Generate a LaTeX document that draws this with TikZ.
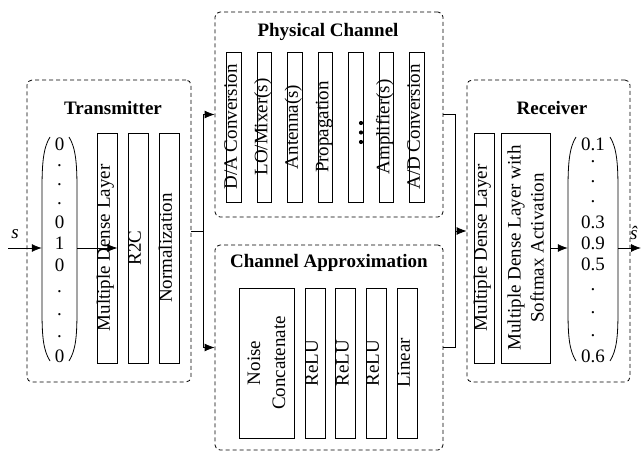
\documentclass[tikz,border=0pt]{standalone}
\usepackage{fontspec}
\setmainfont{Liberation Serif}
\usetikzlibrary{arrows.meta}
\begin{document}
\begin{tikzpicture}[x=1pt,y=-1pt,
  every node/.style={font=\fontsize{19}{23}\selectfont},
  dbox/.style={draw, dash pattern=on 4pt off 3pt, rounded corners=5pt, line width=0.8pt, inner sep=0pt},
  ttl/.style={font=\fontsize{19}{23}\selectfont\bfseries, inner sep=0pt},
  layer/.style={draw, line width=0.8pt, rotate=90, inner sep=0pt, text height=0.62em, text depth=0.05em},
  layertwo/.style={draw, line width=0.8pt, rotate=90, inner sep=0pt, align=center},
  ent/.style={inner sep=0pt},
  arr/.style={line width=0.8pt, -{Latex[length=10pt,width=8pt]}},
  ln/.style={line width=0.8pt}]
\useasboundingbox (0,0) rectangle (641,452);

% ---------------- Transmitter ----------------
\node[dbox, minimum width=164pt, minimum height=302pt] (tx) at (109,231) {};
\node[ttl] (txt) at (113,108) {Transmitter};
\node[inner sep=0pt, minimum width=35pt, minimum height=226pt] (vt) at (59.5,248) {};
\draw[ln] (50,137) .. controls (43,148) and (42,165) .. (42,190) -- (42,310) .. controls (42,335) and (43,350) .. (50,361);
\draw[ln] (69,137) .. controls (76,148) and (77,165) .. (77,190) -- (77,310) .. controls (77,335) and (76,350) .. (69,361);
\node[ent] (t0) at (59.5,144) {0};
\node[ent] (t1) at (59.5,166) {.};
\node[ent] (t2) at (59.5,185) {.};
\node[ent] (t3) at (59.5,204) {.};
\node[ent] (t4) at (59.5,222) {0};
\node[ent] (t5) at (59.5,243) {1};
\node[ent] (t6) at (59.5,265) {0};
\node[ent] (t7) at (59.5,292) {.};
\node[ent] (t8) at (59.5,315) {.};
\node[ent] (t9) at (59.5,337) {.};
\node[ent] (t10) at (59.5,356) {0};
\node[layer, minimum width=230pt, minimum height=20pt] (dT) at (107,248) {Multiple Dense Layer};
\node[layer, minimum width=230pt, minimum height=20pt] (r2c) at (138,248) {R2C};
\node[layer, minimum width=230pt, minimum height=20pt] (nrm) at (169,248) {Normalization};
\coordinate (sin) at (8,248);
\draw[arr] (sin) -- (vt.west);
\node[ent] (slab) at (15,234) {\textit{s}};
\draw[arr] (vt.east) -- (dT.south);

% ---------------- Physical channel ----------------
\node[dbox, minimum width=228pt, minimum height=205pt] (pc) at (329,114.5) {};
\node[ttl] (pct) at (328,32) {Physical Channel};
\node[layer, minimum width=150pt, minimum height=14.5pt] (p1) at (234,127) {D/A Conversion};
\node[layer, minimum width=150pt, minimum height=14.5pt] (p2) at (264.5,127) {LO/Mixer(s)};
\node[layer, minimum width=150pt, minimum height=14.5pt] (p3) at (295,127) {Antenna(s)};
\node[layer, minimum width=150pt, minimum height=14.5pt] (p4) at (325.5,127) {Propagation};
\node[layer, minimum width=150pt, minimum height=14.5pt] (p5) at (356,127) {};
\fill (361,123) circle (2.1pt) (361,132.5) circle (2.1pt) (361,142) circle (2.1pt);
\node[layer, minimum width=150pt, minimum height=14.5pt] (p6) at (386.5,127) {Amplifier(s)};
\node[layer, minimum width=150pt, minimum height=14.5pt] (p7) at (417,127) {A/D Conversion};

% ---------------- Channel approximation ----------------
\node[dbox, minimum width=228pt, minimum height=205pt] (ca) at (329,347.5) {};
\node[ttl] (cat) at (329,263) {Channel Approximation};
\node[layertwo, minimum width=150pt, minimum height=55pt, font=\fontsize{19}{25}\selectfont] (c1) at (266.5,363) {Noise\\Concatenate};
\node[layer, minimum width=150pt, minimum height=20pt] (c2) at (315,363) {ReLU};
\node[layer, minimum width=150pt, minimum height=20pt] (c3) at (345.7,363) {ReLU};
\node[layer, minimum width=150pt, minimum height=20pt] (c4) at (376,363) {ReLU};
\node[layer, minimum width=150pt, minimum height=20pt] (c5) at (407,363) {Linear};

% ---------------- Split / merge ----------------
\coordinate (split) at (203,231);
\draw[ln] (tx.east) -- (split);
\draw[arr] (split) |- (pc.west);
\draw[arr] (split) |- (ca.west);
\coordinate (merge) at (455,231);
\draw[ln] (pc.east) -| (merge);
\draw[ln] (ca.east) -| (merge);

% ---------------- Receiver ----------------
\node[dbox, minimum width=163pt, minimum height=302pt] (rx) at (548.5,231) {};
\draw[arr] (merge) -- (rx.west);
\node[ttl] (rxt) at (552,108) {Receiver};
\node[layer, minimum width=230pt, minimum height=20pt] (dR) at (484,248) {Multiple Dense Layer};
\node[layertwo, minimum width=230pt, minimum height=49pt] (sm) at (525.5,248) {Multiple Dense Layer with\\Softmax Activation};
\node[inner sep=0pt, minimum width=50pt, minimum height=226pt] (vr) at (593,248) {};
\draw[ln] (576,137) .. controls (569,148) and (568,165) .. (568,190) -- (568,310) .. controls (568,335) and (569,350) .. (576,361);
\draw[ln] (610,137) .. controls (617,148) and (618,165) .. (618,190) -- (618,310) .. controls (618,335) and (617,350) .. (610,361);
\node[ent] (r0) at (593,144) {0.1};
\node[ent] (r1) at (593,162) {.};
\node[ent] (r2) at (593,182) {.};
\node[ent] (r3) at (593,202) {.};
\node[ent] (r4) at (593,222) {0.3};
\node[ent] (r5) at (593,243) {0.9};
\node[ent] (r6) at (593,264) {0.5};
\node[ent] (r7) at (593,290) {.};
\node[ent] (r8) at (593,313) {.};
\node[ent] (r9) at (593,336) {.};
\node[ent] (r10) at (593,356) {0.6};
\draw[arr] (sm.south) -- (vr.west);
\coordinate (sout) at (641,248);
\draw[arr] (vr.east) -- (sout);
\node[ent] (shat) at (634,233) {\textit{ŝ}};
\end{tikzpicture}
\end{document}
